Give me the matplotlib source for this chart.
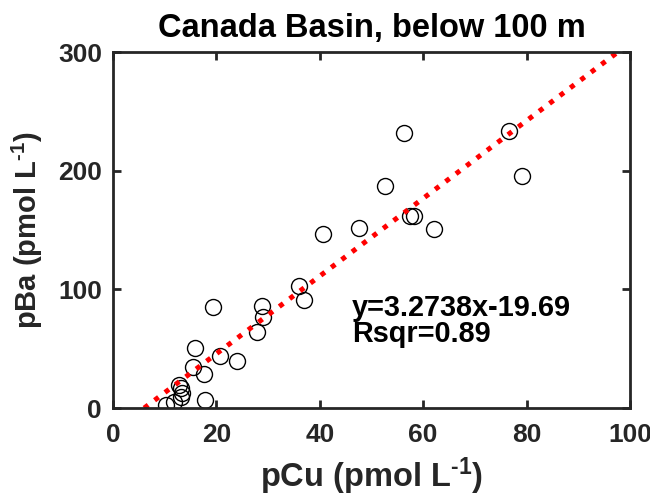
import matplotlib.pyplot as plt
import matplotlib
import numpy as np

matplotlib.rcParams["font.family"] = ["Liberation Sans", "DejaVu Sans"]
matplotlib.rcParams["font.weight"] = "bold"
matplotlib.rcParams["axes.unicode_minus"] = False
matplotlib.rcParams["mathtext.fontset"] = "custom"
matplotlib.rcParams["mathtext.rm"] = "Liberation Sans:bold"
matplotlib.rcParams["mathtext.bf"] = "Liberation Sans:bold"
matplotlib.rcParams["mathtext.default"] = "bf"

# pCu vs pBa, Canada Basin below 100 m
pcu = [10.3, 11.8, 13.2, 13.3, 13.2, 12.8, 17.8, 15.5, 15.9, 17.6, 19.3, 20.7, 24.0, 27.9,
       28.8, 29.0, 36.0, 36.9, 40.6, 47.6, 52.6, 56.3, 57.4, 58.2, 62.1, 76.6, 79.1]
pba = [2.5, 5.0, 9.3, 12.6, 16.9, 19.4, 6.7, 34.6, 50.6, 28.7, 85.0, 43.8, 39.6, 64.0,
       86.0, 76.7, 102.8, 91.0, 146.6, 151.7, 187.0, 231.7, 161.5, 161.8, 150.8, 233.4, 195.5]
slope = 3.2738
intercept = -19.69
rsqr = 0.89

xticks = [0, 20, 40, 60, 80, 100]
yticks = [0, 100, 200, 300]

fig = plt.figure(figsize=(6.5, 4.97), dpi=100)
ax = fig.add_axes([0.174, 0.179, 0.795, 0.716])

ax.plot(pcu, pba, "o", mfc="none", mec="black", ms=11.5, mew=1.0)

xfit = np.array([-intercept / slope, 100])
ax.plot(xfit, slope * xfit + intercept, color="red", lw=3.6,
        linestyle=(0, (1, 1.6)))

ax.set_xlim(0, 100)
ax.set_ylim(0, 300)
ax.set_xticks(xticks)
ax.set_yticks(yticks)

gray = "#262626"
for s in ax.spines.values():
    s.set_linewidth(2)
    s.set_color(gray)
ax.tick_params(direction="in", length=6, width=2, color=gray, labelcolor=gray,
               labelsize=19, top=True, right=True)
ax.tick_params(axis="x", pad=11)
ax.tick_params(axis="y", pad=8)
for lab in ax.get_xticklabels() + ax.get_yticklabels():
    lab.set_fontweight("bold")

ax.set_title("Canada Basin, below 100 m", fontsize=23.5, fontweight="bold", pad=11)
ax.set_xlabel("pCu (pmol L$^{\\text{-1}}$)", fontsize=23.5, fontweight="bold",
              color=gray, labelpad=6)
ax.set_ylabel("pBa (pmol L$^{\\text{-1}}$)", fontsize=21, fontweight="bold",
              color=gray, labelpad=9)

ax.text(46.2, 78, "y=3.2738x-19.69", fontsize=20.8, fontweight="bold", color="black",
        va="baseline")
ax.text(46.2, 55.6, "Rsqr=0.89", fontsize=20.8, fontweight="bold", color="black",
        va="baseline")

plt.savefig("out.png", dpi=100)
